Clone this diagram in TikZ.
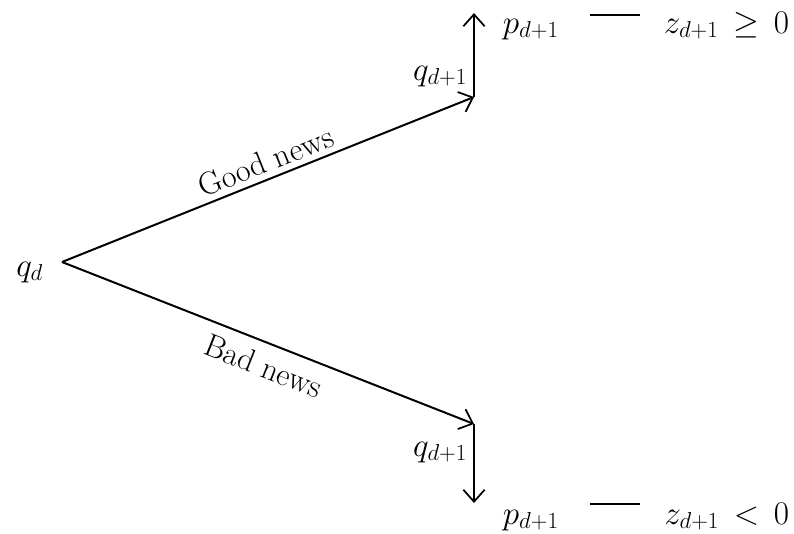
\documentclass[tikz,border=0pt]{standalone}
\usetikzlibrary{arrows.meta}
\begin{document}
\begin{tikzpicture}[x=0.75pt,y=-0.75pt,
  every node/.style={font=\fontsize{24}{28}\selectfont, inner sep=2pt},
  branch/.style={line width=1.5pt, -{Straight Barb[length=9pt,width=16pt,line width=1.3pt]}},
  newslabel/.style={sloped, inner sep=3pt},
  dashline/.style={line width=1.2pt}]
  \useasboundingbox (0,0) rectangle (794,533);

  % root and branch points
  \coordinate (v) at (62,262);
  \coordinate (u) at (474,97);
  \coordinate (ut) at (474,13);
  \coordinate (l) at (474,424);
  \coordinate (lt) at (474,503);

  \node[anchor=base east] (qd) at (46,276) {$q_d$};

  % good-news branch
  \draw[branch] (v) -- node[newslabel, above=1pt, pos=0.51] (good) {Good news} (u);
  \draw[branch] (u) -- (ut);
  \node[anchor=base east] (qu) at (470,80) {$q_{d+1}$};
  \node[anchor=base west] (pu) at (500,33) {$p_{d+1}$};
  \node[anchor=base east] (zu) at (792,33) {$z_{d+1}\,\geq\, 0$};
  \coordinate (du1) at (590,15);
  \coordinate (du2) at (640,15);
  \draw[dashline] (du1) -- (du2);

  % bad-news branch
  \draw[branch] (v) -- node[newslabel, below=5pt, pos=0.51] (bad) {Bad news} (l);
  \draw[branch] (l) -- (lt);
  \node[anchor=base east] (ql) at (470,456) {$q_{d+1}$};
  \node[anchor=base west] (pl) at (500,524) {$p_{d+1}$};
  \node[anchor=base east] (zl) at (792,524) {$z_{d+1}\,<\, 0$};
  \coordinate (dl1) at (590,504);
  \coordinate (dl2) at (640,504);
  \draw[dashline] (dl1) -- (dl2);
\end{tikzpicture}
\end{document}
